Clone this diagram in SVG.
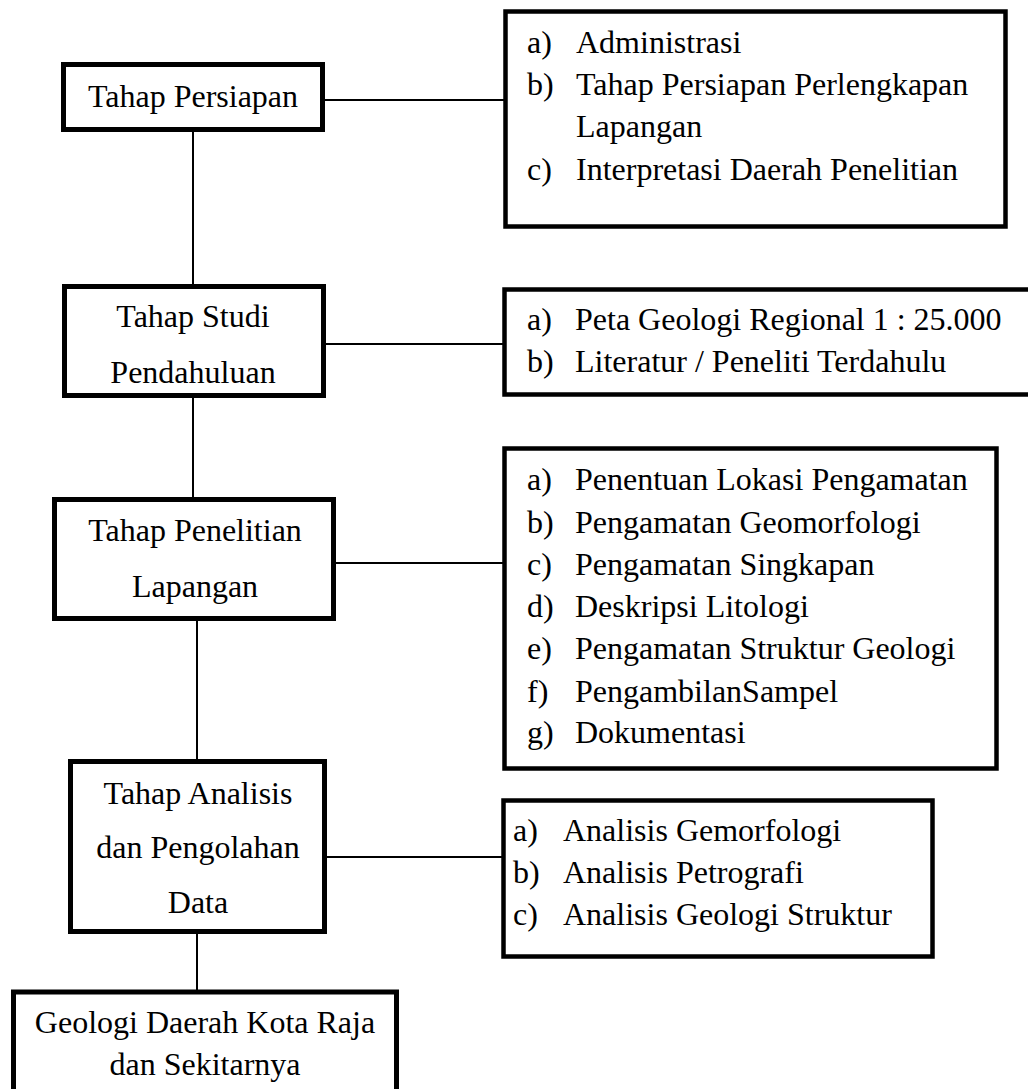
<svg xmlns="http://www.w3.org/2000/svg" width="1028" height="1089" viewBox="0 0 1028 1089">
<style>
.box{fill:#fff;stroke:#000;stroke-width:5;stroke-linejoin:miter}
.lst{fill:#fff;stroke:#000;stroke-width:4.5}
.t{font-family:"Liberation Serif","Times New Roman",serif;font-size:32px;fill:#000}
.c{text-anchor:middle}
.ln{stroke:#000;stroke-width:2;fill:none}
</style>
<rect width="1028" height="1089" fill="#fff"/>
<g id="connectors">
<line class="ln" x1="193" y1="132" x2="193" y2="285"/>
<line class="ln" x1="325" y1="100" x2="504" y2="100"/>
<line class="ln" x1="326" y1="344" x2="503" y2="344"/>
<line class="ln" x1="193" y1="398" x2="193" y2="498"/>
<line class="ln" x1="336" y1="563" x2="503" y2="563"/>
<line class="ln" x1="197" y1="621" x2="197" y2="760"/>
<line class="ln" x1="327" y1="857" x2="502" y2="857"/>
<line class="ln" x1="197" y1="934" x2="197" y2="990"/>
</g>
<g id="n1">
<rect class="box" x="63.5" y="64.5" width="259" height="65"/>
<text class="t c" x="193" y="107">Tahap Persiapan</text>
</g>
<g id="n2">
<rect class="box" x="64.5" y="286.5" width="259" height="109"/>
<text class="t c" x="193" y="327">Tahap Studi</text>
<text class="t c" x="193" y="383">Pendahuluan</text>
</g>
<g id="n3">
<rect class="box" x="54.5" y="499.5" width="279" height="119"/>
<text class="t c" x="195" y="541">Tahap Penelitian</text>
<text class="t c" x="195" y="597">Lapangan</text>
</g>
<g id="n4">
<rect class="box" x="70.5" y="761.5" width="254" height="170"/>
<text class="t c" x="198" y="804">Tahap Analisis</text>
<text class="t c" x="198" y="858">dan Pengolahan</text>
<text class="t c" x="198" y="913">Data</text>
</g>
<g id="n5">
<rect class="box" x="13.5" y="992" width="383" height="110"/>
<text class="t c" x="205" y="1033">Geologi Daerah Kota Raja</text>
<text class="t c" x="205" y="1075">dan Sekitarnya</text>
</g>
<g id="r1">
<rect class="lst" x="505.5" y="11.5" width="500" height="215"/>
<text class="t" x="527" y="53">a)</text><text class="t" x="576" y="53">Administrasi</text>
<text class="t" x="527" y="95">b)</text><text class="t" x="576" y="95">Tahap Persiapan Perlengkapan</text>
<text class="t" x="576" y="137">Lapangan</text>
<text class="t" x="527" y="180">c)</text><text class="t" x="576" y="180">Interpretasi Daerah Penelitian</text>
</g>
<g id="r2">
<rect class="lst" x="504.5" y="289.5" width="540" height="105"/>
<text class="t" x="527" y="330">a)</text><text class="t" x="575" y="330">Peta Geologi Regional 1 : 25.000</text>
<text class="t" x="527" y="372">b)</text><text class="t" x="575" y="372">Literatur / Peneliti Terdahulu</text>
</g>
<g id="r3">
<rect class="lst" x="504.5" y="448.5" width="492" height="320"/>
<text class="t" x="527" y="490">a)</text><text class="t" x="575" y="490">Penentuan Lokasi Pengamatan</text>
<text class="t" x="527" y="533">b)</text><text class="t" x="575" y="533">Pengamatan Geomorfologi</text>
<text class="t" x="527" y="575">c)</text><text class="t" x="575" y="575">Pengamatan Singkapan</text>
<text class="t" x="527" y="617">d)</text><text class="t" x="575" y="617">Deskripsi Litologi</text>
<text class="t" x="527" y="659">e)</text><text class="t" x="575" y="659">Pengamatan Struktur Geologi</text>
<text class="t" x="527" y="702">f)</text><text class="t" x="575" y="702">PengambilanSampel</text>
<text class="t" x="527" y="743">g)</text><text class="t" x="575" y="743">Dokumentasi</text>
</g>
<g id="r4">
<rect class="lst" x="503.5" y="800.5" width="429" height="156"/>
<text class="t" x="513" y="841">a)</text><text class="t" x="563" y="841">Analisis Gemorfologi</text>
<text class="t" x="513" y="883">b)</text><text class="t" x="563" y="883">Analisis Petrografi</text>
<text class="t" x="513" y="925">c)</text><text class="t" x="563" y="925">Analisis Geologi Struktur</text>
</g>
</svg>
